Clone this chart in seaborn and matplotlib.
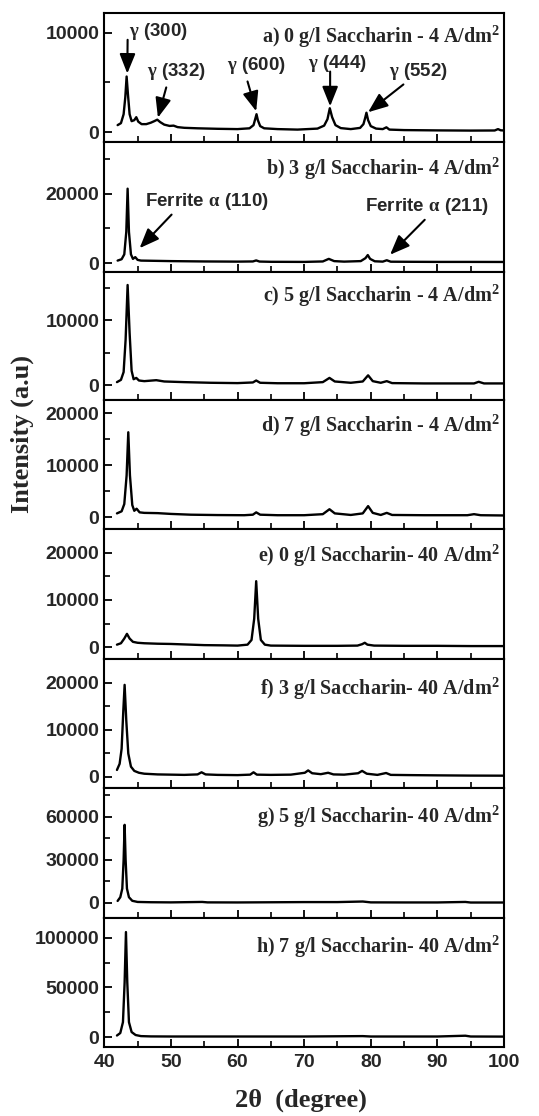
import matplotlib
matplotlib.use("Agg")
import matplotlib.pyplot as plt
import seaborn as sns
import pandas as pd
from matplotlib.ticker import FixedLocator, MultipleLocator

# ---------------- data ----------------
a_theta = [42.0, 42.5, 42.9, 43.15, 43.35, 43.55, 43.8, 44.1, 44.5, 44.8, 45.1, 45.6, 46.3, 47.0, 47.5,
           47.95, 48.4, 49.0, 49.8, 50.4, 51.0, 52, 54, 57, 60, 61.8, 62.4, 62.65, 62.85, 63.05, 63.4,
           64.0, 66, 69, 72.0, 73.0, 73.5, 73.85, 74.2, 74.7, 75.5, 77, 78.4, 78.9, 79.15, 79.35, 79.6,
           80.0, 80.8, 81.8, 82.35, 82.8, 85, 90, 95, 98.6, 99.1, 99.5, 100]
a_int = [700, 900, 1800, 3500, 5600, 3800, 1800, 1100, 1200, 1500, 1050, 800, 800, 950, 1100,
         1250, 1000, 750, 620, 650, 500, 430, 380, 330, 300, 380, 700, 1300, 1800, 1200, 600,
         380, 300, 250, 350, 650, 1300, 2400, 1500, 700, 400, 300, 420, 800, 1400, 1950, 1200,
         600, 350, 300, 480, 250, 200, 170, 150, 160, 300, 180, 160]

b_theta = [42.0, 42.6, 43.0, 43.3, 43.5, 43.7, 44.0, 44.3, 44.65, 45.0, 45.5, 47, 50, 55, 60, 62.3,
           62.8, 63.3, 65, 70, 72.8, 73.7, 74.5, 76, 78.5, 79.2, 79.55, 79.9, 80.6, 81.8, 82.4, 83.0,
           86, 90, 95, 100]
b_int = [700, 1100, 2500, 9000, 21500, 9000, 2500, 1200, 1700, 900, 700, 650, 550, 450, 400, 450,
         750, 420, 350, 320, 450, 1200, 550, 400, 550, 1400, 2300, 1200, 500, 400, 800, 380,
         350, 320, 320, 300]

c_theta = [41.9, 42.5, 42.9, 43.2, 43.5, 43.8, 44.1, 44.4, 44.8, 45.2, 46, 47.8, 49, 52, 56, 60,
           62.3, 62.8, 63.4, 66, 70, 72.8, 73.8, 74.6, 77, 78.8, 79.6, 80.3, 81.5, 82.4, 83.2, 88,
           95.5, 96.2, 97, 100]
c_int = [450, 800, 2000, 7000, 15400, 8000, 2200, 900, 1100, 700, 600, 750, 550, 450, 350, 300,
         400, 700, 350, 280, 280, 450, 1100, 550, 350, 550, 1500, 600, 350, 600, 300, 250,
         250, 500, 250, 250]

d_theta = [41.9, 42.6, 43.0, 43.35, 43.6, 43.85, 44.2, 44.5, 44.85, 45.3, 46, 48, 50, 53, 57, 61,
           62.3, 62.8, 63.4, 66, 70, 72.8, 73.8, 74.6, 77, 78.8, 79.6, 80.3, 81.5, 82.4, 83.2, 88,
           94.5, 95.5, 96.5, 100]
d_int = [700, 1100, 2500, 8000, 16300, 8000, 2300, 1200, 1600, 900, 800, 750, 600, 450, 380, 350,
         450, 900, 450, 350, 350, 550, 1500, 700, 400, 700, 2100, 800, 400, 800, 400, 350,
         350, 550, 350, 300]

e_theta = [41.9, 42.5, 43.0, 43.4, 43.8, 44.3, 45, 46, 48, 50, 52, 55, 58, 60, 61.5, 62.1, 62.5,
           62.8, 63.1, 63.5, 64.1, 65, 70, 75, 78, 78.7, 79.1, 79.5, 80.5, 85, 90, 95, 100]
e_int = [500, 800, 1800, 2800, 1800, 1100, 900, 800, 700, 650, 550, 400, 350, 300, 500, 1500, 6000,
         14000, 6000, 1500, 500, 300, 250, 250, 300, 600, 900, 500, 300, 250, 250, 200, 200]

f_theta = [41.9, 42.3, 42.6, 42.85, 43.05, 43.3, 43.6, 44.0, 44.5, 45.2, 46, 48, 50, 52, 54.0, 54.6,
           55.2, 57, 60, 61.9, 62.4, 62.9, 65, 68, 70.1, 70.6, 71.2, 72.5, 73.6, 74.4, 76, 78.1,
           78.7, 79.4, 81, 82.3, 83, 86, 90, 95, 100]
f_int = [1500, 2800, 6000, 14000, 19600, 12000, 5000, 2200, 1300, 900, 700, 550, 500, 450, 550, 1000,
         550, 450, 400, 500, 1000, 500, 450, 500, 900, 1400, 800, 600, 900, 550, 500, 800,
         1300, 700, 450, 850, 450, 400, 350, 300, 280]

g_theta = [42.0, 42.4, 42.7, 42.9, 43.05, 43.2, 43.4, 43.7, 44.2, 45, 47, 50, 54.7, 55.5, 60, 70,
           75, 78.8, 80, 85, 90, 94.2, 95, 100]
g_int = [1400, 4000, 10000, 30000, 54500, 30000, 10000, 4000, 1500, 700, 500, 400, 700, 400, 350, 600,
         600, 1000, 400, 350, 350, 700, 300, 300]

h_theta = [41.9, 42.4, 42.8, 43.05, 43.25, 43.45, 43.7, 44.1, 44.7, 45.5, 47, 50, 60, 70, 78.8, 80,
           90, 94.2, 95, 100]
h_int = [1500, 4000, 15000, 55000, 106000, 55000, 15000, 5000, 2000, 900, 600, 500, 500, 500, 900, 500,
         500, 1300, 500, 400]

panel_labels = ["a) 0 g/l Saccharin - 4 A/dm", "b) 3 g/l Saccharin- 4 A/dm",
                "c) 5 g/l Saccharin - 4 A/dm", "d) 7 g/l Saccharin - 4 A/dm",
                "e) 0 g/l Saccharin- 40 A/dm", "f) 3 g/l Saccharin- 40 A/dm",
                "g) 5 g/l Saccharin- 40 A/dm", "h) 7 g/l Saccharin- 40 A/dm"]

major_yticks = [[0, 10000], [0, 20000], [0, 10000], [0, 10000, 20000],
                [0, 10000, 20000], [0, 10000, 20000], [0, 30000, 60000], [0, 50000, 100000]]
minor_yticks = [[5000], [10000, 30000], [5000, 15000], [5000, 15000],
                [5000, 15000], [5000, 15000], [15000, 45000, 75000], [25000, 75000]]
ylims = [(-1000, 12000), (-2600, 35000), (-2300, 17400), (-2300, 22500),
         (-2550, 25100), (-2340, 25100), (-10500, 80200), (-10100, 120200)]

x_ticks = [40, 50, 60, 70, 80, 90, 100]

# peak annotations (text, text x, text y, arrow tail, arrow head)
ann_a = [(r"$\gamma$ (300)", 48.1, 10100, (43.5, 9300), (43.45, 5900)),
         (r"$\gamma$ (332)", 50.8, 6100, (49.3, 4500), (48.05, 1450)),
         (r"$\gamma$ (600)", 62.9, 6700, (61.5, 5100), (62.8, 2100)),
         (r"$\gamma$ (444)", 75.0, 6900, (73.9, 6100), (73.9, 2600)),
         (r"$\gamma$ (552)", 87.2, 6100, (84.9, 4800), (79.6, 2000))]
ann_b = [(r"Ferrite $\alpha$ (110)", 55.4, 17900, (50.1, 14000), (45.3, 4300)),
         (r"Ferrite $\alpha$ (211)", 88.4, 16400, (88.1, 12500), (82.9, 2400))]

curves = [(a_theta, a_int), (b_theta, b_int), (c_theta, c_int), (d_theta, d_int),
          (e_theta, e_int), (f_theta, f_int), (g_theta, g_int), (h_theta, h_int)]

# ---------------- style ----------------
sns.set_style("ticks")
plt.rcParams["font.family"] = ["Liberation Sans", "DejaVu Sans"]
plt.rcParams["font.weight"] = "bold"
plt.rcParams["mathtext.fontset"] = "custom"
plt.rcParams["mathtext.rm"] = "Liberation Serif:bold"
plt.rcParams["mathtext.bf"] = "Liberation Serif:bold"
plt.rcParams["mathtext.it"] = "Liberation Serif"

W, H = 539, 1116
fig = plt.figure(figsize=(W / 100, H / 100), dpi=100)
left_px, right_px = 104.3, 504.0
bounds = [(13, 142), (142, 272), (272, 400), (400, 529), (529, 659), (659, 788), (788, 918), (918, 1047)]
title_off = [30, 33, 30, 32, 33, 36, 35, 35]

serif = ["Liberation Serif", "DejaVu Serif"]

for i, ((t, b), (xs, ys)) in enumerate(zip(bounds, curves)):
    ax = fig.add_axes([left_px / W, 1 - b / H, (right_px - left_px) / W, (b - t) / H])
    df = pd.DataFrame({"theta": xs, "intensity": ys})
    sns.lineplot(data=df, x="theta", y="intensity", ax=ax, color="black", lw=1.7,
                 estimator=None, sort=False)
    ax.set_xlim(40, 100)
    ax.set_ylim(*ylims[i])
    ax.xaxis.set_major_locator(FixedLocator(x_ticks))
    ax.xaxis.set_minor_locator(MultipleLocator(5))
    ax.yaxis.set_major_locator(FixedLocator(major_yticks[i]))
    ax.yaxis.set_minor_locator(FixedLocator(minor_yticks[i]))
    ax.tick_params(axis="both", which="major", direction="in", length=6, width=1.3,
                   labelsize=14, color="black")
    ax.tick_params(axis="both", which="minor", direction="in", length=4, width=1.2, color="black")
    ax.tick_params(axis="y", pad=3.5)
    ax.tick_params(axis="x", pad=5)
    ax.tick_params(top=False, right=False, which="both")
    if i < 7:
        ax.tick_params(axis="x", labelbottom=False)
    ax.set_xlabel("")
    ax.set_ylabel("")
    for s in ax.spines.values():
        s.set_linewidth(1.5)
        s.set_color("black")
    ax.text(0.99, 1 - title_off[i] / (b - t), panel_labels[i] + r"$^{\mathbf{2}}$",
            transform=ax.transAxes, ha="right", va="baseline", fontsize=14.5,
            family=serif, fontweight="bold")

    anns = ann_a if i == 0 else (ann_b if i == 1 else [])
    for txt, tx, ty, tail, head in anns:
        ax.text(tx, ty, txt, ha="center", va="center", fontsize=13.5, fontweight="bold")
        ax.annotate("", xy=head, xytext=tail,
                    arrowprops=dict(arrowstyle="-|>,head_length=0.8,head_width=0.32",
                                    color="black", lw=1.5, mutation_scale=15,
                                    shrinkA=0, shrinkB=0))

fig.text(22 / W, 1 - 434 / H, "Intensity (a.u)", rotation=90, ha="center", va="center",
         fontsize=19, family=serif, fontweight="bold")
fig.text(301 / W, 1 - 1100 / H, "2θ  (degree)", ha="center", va="center",
         fontsize=19, family=serif, fontweight="bold")

fig.savefig("out.png", dpi=100)
